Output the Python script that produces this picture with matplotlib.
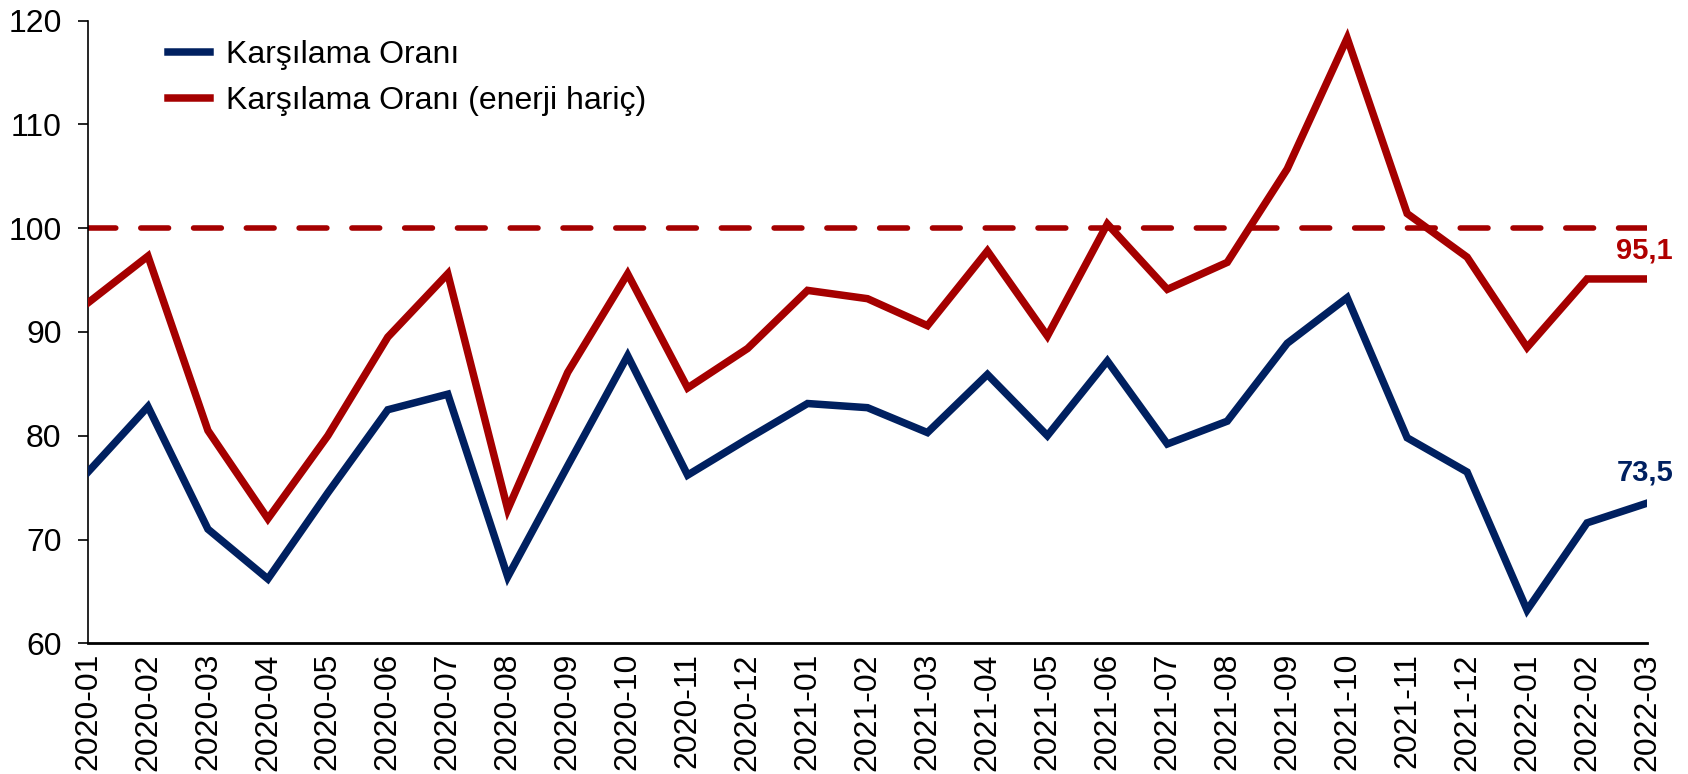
import matplotlib
matplotlib.use("Agg")
import matplotlib.pyplot as plt

plt.rcParams['font.family'] = ['Liberation Sans', 'DejaVu Sans']

months = ["2020-01", "2020-02", "2020-03", "2020-04", "2020-05", "2020-06", "2020-07",
          "2020-08", "2020-09", "2020-10", "2020-11", "2020-12", "2021-01", "2021-02",
          "2021-03", "2021-04", "2021-05", "2021-06", "2021-07", "2021-08", "2021-09",
          "2021-10", "2021-11", "2021-12", "2022-01", "2022-02", "2022-03"]

karsilama = [76.5, 82.8, 71.0, 66.2, 74.5, 82.5, 84.0, 66.4, 77.1, 87.7, 76.2, 79.7,
             83.1, 82.7, 80.3, 85.9, 80.0, 87.2, 79.2, 81.4, 88.9, 93.3, 79.8, 76.5,
             63.2, 71.6, 73.5]

karsilama_enerji_haric = [92.8, 97.3, 80.5, 72.0, 80.0, 89.5, 95.6, 72.9, 86.1, 95.6,
                          84.6, 88.4, 94.0, 93.2, 90.6, 97.8, 89.6, 100.4, 94.1, 96.7,
                          105.7, 118.3, 101.4, 97.2, 88.5, 95.1, 95.1]

reference_level = 100
y_ticks = [60, 70, 80, 90, 100, 110, 120]

navy = "#002060"
red = "#A50000"

fig = plt.figure(figsize=(16.88, 7.74), dpi=100)
ax = fig.add_axes([88 / 1688, 1 - 643.3 / 774, (1647 - 88) / 1688, (643.3 - 20.5) / 774])

x = list(range(len(months)))

ax.axhline(reference_level, color=red, lw=4.0, dashes=(5.0, 4.5), dash_capstyle='round', zorder=2)
ax.plot(x, karsilama, color=navy, lw=5.4, label="Karşılama Oranı", zorder=3,
        solid_joinstyle='miter')
ax.plot(x, karsilama_enerji_haric, color=red, lw=5.4, label="Karşılama Oranı (enerji hariç)",
        zorder=3, solid_joinstyle='miter')

ax.set_xlim(0, len(months) - 1)
ax.set_ylim(60, 120)
ax.set_yticks(y_ticks)
ax.set_yticklabels([str(v) for v in y_ticks])
ax.set_xticks(x)
ax.set_xticklabels(months, rotation=90)

ax.tick_params(axis='y', labelsize=23, length=7, width=1.2, pad=12, direction='out')
ax.tick_params(axis='x', labelsize=23, length=0, pad=7)

for s in ['top', 'right']:
    ax.spines[s].set_visible(False)
ax.spines['left'].set_linewidth(1.2)
ax.spines['bottom'].set_linewidth(2.0)

last = len(months) - 1
ax.annotate(f"{karsilama_enerji_haric[-1]:.1f}".replace('.', ','),
            xy=(last, karsilama_enerji_haric[-1]), xytext=(-2, 15), textcoords='offset points',
            ha='center', va='baseline', fontsize=21, fontweight='bold', color="#B00000",
            annotation_clip=False)
ax.annotate(f"{karsilama[-1]:.1f}".replace('.', ','),
            xy=(last, karsilama[-1]), xytext=(-1, 16), textcoords='offset points',
            ha='center', va='baseline', fontsize=21, fontweight='bold', color=navy,
            annotation_clip=False)

leg = ax.legend(loc='upper left', bbox_to_anchor=(0.033, 1.015), frameon=False, fontsize=23,
                handlelength=1.3, handletextpad=0.5, labelspacing=0.5)

fig.savefig("out.png", dpi=100, facecolor='white')
